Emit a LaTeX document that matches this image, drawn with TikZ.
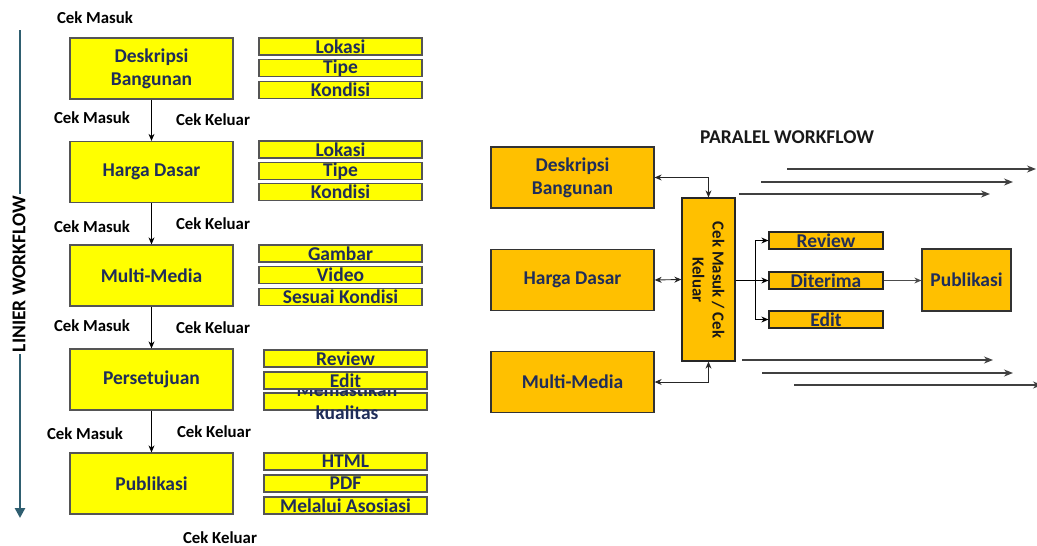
\documentclass[tikz,border=0pt]{standalone}
\usepackage{fontspec}
\setmainfont{Carlito}
\usetikzlibrary{arrows.meta}
\definecolor{navy}{RGB}{31,45,90}
\definecolor{yel}{RGB}{255,255,0}
\definecolor{org}{RGB}{255,192,0}
\definecolor{tealline}{RGB}{47,94,112}
\definecolor{bord}{RGB}{85,85,85}
\definecolor{plline}{RGB}{64,64,64}
\begin{document}
\begin{tikzpicture}[x=1pt,y=-1pt,
  txtbig/.style={font=\fontsize{19.5}{23}\selectfont\bfseries},
  mainbox/.style={draw=bord, line width=1.3pt, fill=yel, minimum width=163pt, minimum height=61pt, inner sep=0pt, text=navy, txtbig, align=center},
  subbox/.style={draw=bord, line width=1.3pt, fill=yel, minimum width=163pt, minimum height=17pt, inner sep=0pt, text=navy, txtbig},
  rbox/.style={mainbox, fill=org, draw=black!80},
  rsub/.style={subbox, fill=org, draw=black!85, minimum width=114pt},
  cek/.style={font=\fontsize{16.8}{20}\selectfont\bfseries, text=black, inner sep=0pt},
  flow/.style={-{Stealth[length=7pt,width=6pt]}, line width=0.8pt, black},
  dflow/.style={{Stealth[length=7pt,width=6pt]}-{Stealth[length=7pt,width=6pt]}, line width=0.9pt, black!85},
  pline/.style={-{Stealth[length=9pt,width=7pt]}, line width=1.3pt, plline},
]
\useasboundingbox (0,0) rectangle (1037,546);
\fill[white] (0,0) rectangle (1037,546);

% ---------- LINIER WORKFLOW ----------
\coordinate (lt) at (20,30);
\coordinate (lb) at (20,518);
\draw[line width=2.6pt, tealline, -{Triangle[length=10pt,width=10pt]}] (lt) -- (lb);
\node[fill=white, rotate=90, inner sep=2pt, font=\fontsize{19.5}{23}\selectfont\bfseries, text=black] (lw) at (19,274) {LINIER WORKFLOW};

\node[mainbox] (l1) at (151.5,68.5) {Deskripsi\\Bangunan};
\node[mainbox] (l2) at (151.5,172) {Harga Dasar};
\node[mainbox] (l3) at (151.5,275.5) {Multi-Media};
\node[mainbox] (l4) at (151.5,379.5) {Persetujuan};
\node[mainbox] (l5) at (151.5,483.5) {Publikasi};

\draw[flow] (l1) -- (l2);
\draw[flow] (l2) -- (l3);
\draw[flow] (l3) -- (l4);
\draw[flow] (l4) -- (l5);

\node[subbox] (s1a) at (340.5,46.5) {Lokasi};
\node[subbox] (s1b) at (340.5,68) {Tipe};
\node[subbox] (s1c) at (340.5,90) {Kondisi};
\node[subbox] (s2a) at (340.5,149.5) {Lokasi};
\node[subbox] (s2b) at (340.5,171) {Tipe};
\node[subbox] (s2c) at (340.5,192) {Kondisi};
\node[subbox] (s3a) at (340.5,253.5) {Gambar};
\node[subbox] (s3b) at (340.5,275) {Video};
\node[subbox] (s3c) at (340.5,297) {Sesuai Kondisi};
\node[subbox] (s4a) at (345.5,358.5) {Review};
\node[subbox] (s4c) at (345.5,401.5) {};
\node[txtbig, text=navy, align=center, inner sep=0pt] (mk) at (347,401) {Memastikan\\kualitas};
\node[subbox] (s4b) at (345.5,380.5) {Edit};
\node[subbox] (s5a) at (345.5,461.5) {HTML};
\node[subbox] (s5b) at (345.5,483.5) {PDF};
\node[subbox] (s5c) at (345.5,505.5) {Melalui Asosiasi};

\node[cek] (cm0) at (95,18) {Cek Masuk};
\node[cek] (cm1) at (92,118) {Cek Masuk};
\node[cek] (ck1) at (213,120) {Cek Keluar};
\node[cek] (cm2) at (92,227) {Cek Masuk};
\node[cek] (ck2) at (213,224) {Cek Keluar};
\node[cek] (cm3) at (92,326) {Cek Masuk};
\node[cek] (ck3) at (213,328) {Cek Keluar};
\node[cek] (cm4) at (85,434) {Cek Masuk};
\node[cek] (ck4) at (214,432) {Cek Keluar};
\node[cek] (ck5) at (220,538) {Cek Keluar};

% ---------- PARALEL WORKFLOW ----------
\node[txtbig, text=black!90, inner sep=0pt] (pt) at (787,137) {PARALEL WORKFLOW};

\node[rbox] (r1) at (572.5,177.5) {Deskripsi\\Bangunan};
\node[rbox] (r2) at (572.5,280) {Harga Dasar};
\node[rbox] (r3) at (572.5,382) {Multi-Media};

\node[draw=black!85, line width=1.3pt, fill=org, minimum width=53pt, minimum height=163pt, inner sep=0pt] (c) at (708.5,279.5) {};
\node[rotate=-90, align=center, font=\fontsize{16.8}{20}\selectfont\bfseries, text=black!90, inner sep=0pt] (ct) at (708.5,280) {Cek Masuk / Cek\\Keluar};

\node[rsub] (rv) at (826,240.5) {Review};
\node[rsub] (dt) at (826,280.5) {Diterima};
\node[rsub] (ed) at (826,319.5) {Edit};
\node[rbox, minimum width=89pt, minimum height=62pt] (pb) at (966.5,280) {Publikasi};

\draw[dflow] (r1.east) -| (c.north);
\draw[dflow] (r2.east) -- (c.west);
\draw[dflow] (r3.east) -| (c.south);

\coordinate (br) at (755,280.5);
\draw[line width=1.8pt, black] (c.east |- br) -- (br);
\draw[flow, line width=0.9pt] (br) -- (dt.west);
\draw[flow, line width=0.9pt] (br) |- (rv.west);
\draw[flow, line width=0.9pt] (br) |- (ed.west);
\draw[flow, line width=0.9pt, black!70] (dt.east) -- (dt.east -| pb.west);

\coordinate (t1a) at (787,169);  \coordinate (t1b) at (1036,169);
\coordinate (t2a) at (761,182);  \coordinate (t2b) at (1013,182);
\coordinate (t3a) at (739,194);  \coordinate (t3b) at (990,194);
\coordinate (b1a) at (742,360);  \coordinate (b1b) at (993,360);
\coordinate (b2a) at (762,373);  \coordinate (b2b) at (1013,373);
\coordinate (b3a) at (794,385);  \coordinate (b3b) at (1042,385);
\draw[pline] (t1a) -- (t1b);
\draw[pline] (t2a) -- (t2b);
\draw[pline] (t3a) -- (t3b);
\draw[pline] (b1a) -- (b1b);
\draw[pline] (b2a) -- (b2b);
\draw[pline] (b3a) -- (b3b);
\end{tikzpicture}
\end{document}
